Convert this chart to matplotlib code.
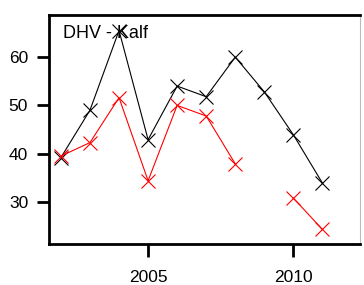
import matplotlib
matplotlib.use("Agg")
import matplotlib.pyplot as plt
import numpy as np

plt.rcParams['font.family'] = ['Liberation Sans', 'DejaVu Sans']

# data
years = [2002, 2003, 2004, 2005, 2006, 2007, 2008, 2009, 2010, 2011]
black_vals = [39.2, 49.0, 65.5, 42.9, 54.0, 51.8, 60.0, 52.8, 43.9, 33.9]
red_vals = [39.5, 42.3, 51.6, 34.4, 50.0, 47.8, 37.9, np.nan, 30.8, 24.3]
title_text = "DHV - Kalf"

fig = plt.figure(figsize=(3.64, 2.85), dpi=100)
ax = fig.add_axes([0.1346, 0.144, 0.855, 0.803])

ax.plot(years, black_vals, color="black", lw=0.8, marker="x", ms=10, mew=0.8)
ax.plot(years, red_vals, color="red", lw=0.8, marker="x", ms=10, mew=0.8)

ax.set_xlim(2001.59, 2012.3)
ax.set_ylim(21.3, 68.7)
ax.set_xticks([2005, 2010])
ax.set_yticks([30, 40, 50, 60])

for side in ["left", "bottom", "top"]:
    ax.spines[side].set_linewidth(2)
    ax.spines[side].set_color("black")
ax.spines["right"].set_linewidth(0.8)
ax.spines["right"].set_color("#bbbbbb")
ax.tick_params(length=9, width=2, labelsize=12.5)
ax.tick_params(axis="y", pad=6)
ax.tick_params(axis="x", pad=10)

ax.text(0.045, 0.955, title_text, transform=ax.transAxes, ha="left", va="top", fontsize=13)

fig.savefig("out.png", dpi=100)
